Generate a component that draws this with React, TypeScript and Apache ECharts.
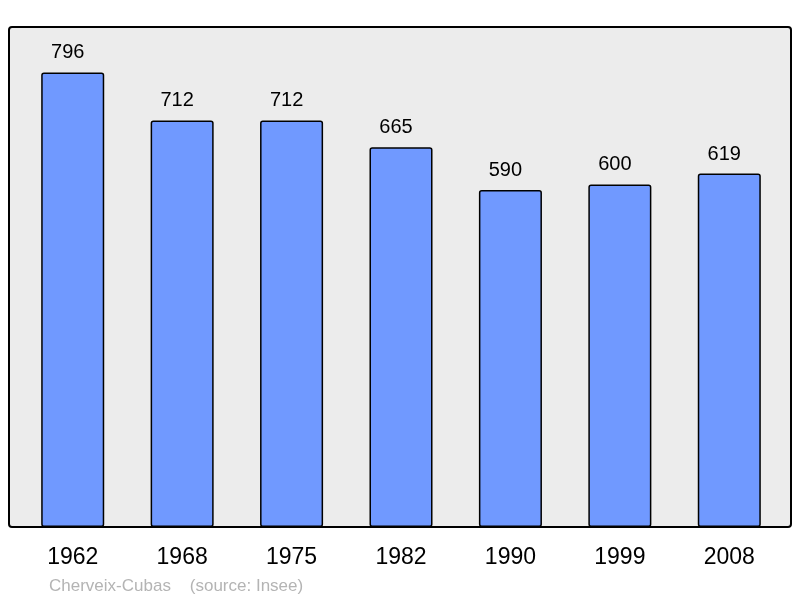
import React, { useEffect, useRef } from "react";
import * as echarts from "echarts";

const years = ["1962", "1968", "1975", "1982", "1990", "1999", "2008"];
const population = [796, 712, 712, 665, 590, 600, 619];
const sourceText = "Cherveix-Cubas    (source: Insee)";

export default function App() {
  const ref = useRef<HTMLDivElement>(null);
  useEffect(() => {
    if (!ref.current) return;
    const chart = echarts.init(ref.current, null, { renderer: "svg" });
    chart.setOption({
      animation: false,
      textStyle: { fontFamily: "Liberation Sans, Arial, sans-serif" },
      graphic: [
        {
          type: "rect",
          z: -10,
          shape: { x: 9, y: 27, width: 782, height: 500, r: 3 },
          style: { fill: "#ECECEC", stroke: "#000000", lineWidth: 2 },
          silent: true,
        },
        {
          type: "text",
          x: 49,
          y: 585,
          style: {
            text: sourceText,
            fill: "#B4B4B4",
            font: "17px 'Liberation Sans', Arial, sans-serif",
            verticalAlign: "middle",
          },
        },
      ],
      grid: { left: 18, right: 16, top: 27, bottom: 71, containLabel: false },
      xAxis: {
        type: "category",
        data: years,
        axisLine: { show: false },
        axisTick: { show: false },
        axisLabel: {
          color: "#000000",
          fontSize: 23,
          margin: 17,
          fontFamily: "Liberation Sans, Arial, sans-serif",
        },
      },
      yAxis: {
        type: "value",
        min: 0,
        max: 875.6,
        show: false,
        splitLine: { show: false },
      },
      series: [
        {
          type: "bar",
          data: population,
          barWidth: "57.6%",
          itemStyle: {
            color: "#7099FF",
            borderColor: "#000000",
            borderWidth: 1.5,
            borderRadius: 2,
          },
          label: {
            show: true,
            position: "top",
            distance: 11,
            offset: [-5, 0],
            color: "#000000",
            fontSize: 20,
            fontFamily: "Liberation Sans, Arial, sans-serif",
          },
        },
      ],
    });
    return () => chart.dispose();
  }, []);
  return (
    <div
      ref={ref}
      style={{ position: "fixed", left: 0, top: 0, width: 800, height: 598 }}
    />
  );
}
